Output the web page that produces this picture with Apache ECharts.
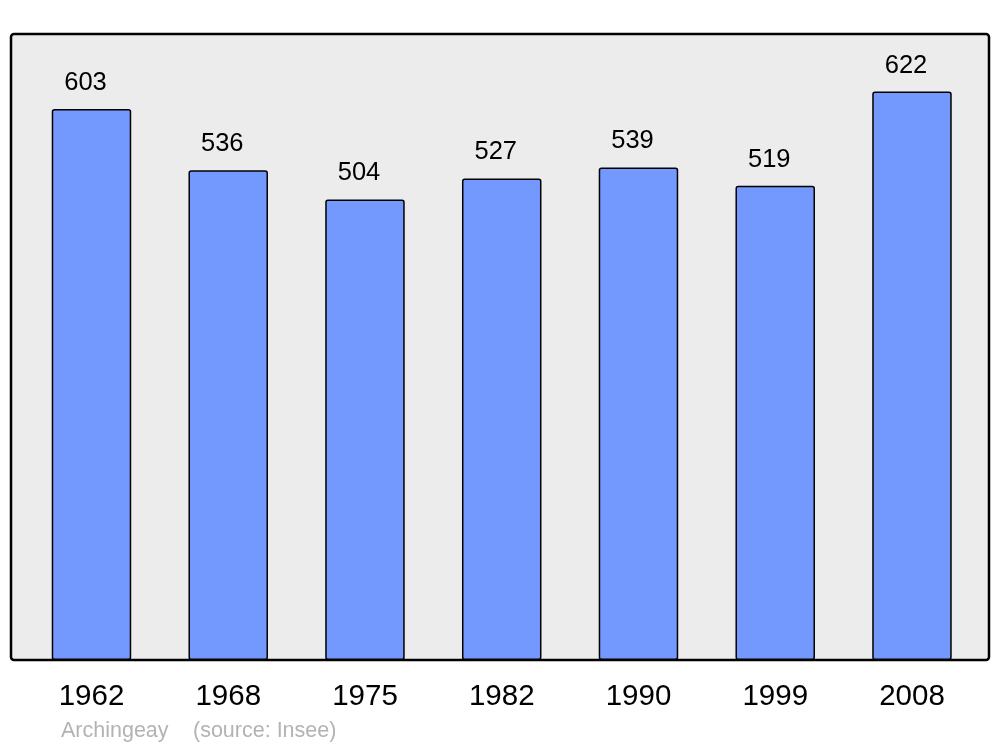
<!DOCTYPE html>
<html>
<head>
<meta charset="utf-8">
<script src="https://cdn.jsdelivr.net/npm/echarts@6/dist/echarts.min.js"></script>
<style>html,body{margin:0;padding:0;background:#fff;}#c{width:1000px;height:747px;}</style>
</head>
<body>
<div id="c"></div>
<script>
const categories = ['1962', '1968', '1975', '1982', '1990', '1999', '2008'];
const population = [603, 536, 504, 527, 539, 519, 622];
const placeName = 'Archingeay';
const sourceText = '(source: Insee)';

const FONT = '"Liberation Sans", Arial, sans-serif';
const chart = echarts.init(document.getElementById('c'), null, {renderer: 'canvas'});
chart.setOption({
  animation: false,
  backgroundColor: '#ffffff',
  grid: {left: 23.1, right: 19.65, top: 34, bottom: 87},
  graphic: [
    {type: 'rect', z: -10, shape: {x: 11, y: 34, width: 978, height: 626, r: 3},
     style: {fill: '#ececec', stroke: '#000', lineWidth: 2.5}},
    {type: 'text', left: 61, top: 720, style: {text: placeName, fill: '#b3b3b3', font: '21.5px ' + FONT}},
    {type: 'text', left: 193, top: 720, style: {text: sourceText, fill: '#b3b3b3', font: '21.5px ' + FONT}}
  ],
  xAxis: {
    type: 'category', data: categories,
    axisLine: {show: false}, axisTick: {show: false}, splitLine: {show: false},
    axisLabel: {interval: 0, color: '#000', fontSize: 29.5, fontFamily: FONT, margin: 22}
  },
  yAxis: {type: 'value', min: 0, max: 685, show: false, splitLine: {show: false}},
  series: [{
    type: 'bar', data: population, barWidth: 79.5,
    itemStyle: {color: '#7399ff', borderColor: '#000', borderWidth: 1.5, borderRadius: 2},
    label: {show: true, position: 'top', distance: 13, offset: [-6, 0], color: '#000', fontSize: 25.5, fontFamily: FONT}
  }]
});
</script>
</body>
</html>
